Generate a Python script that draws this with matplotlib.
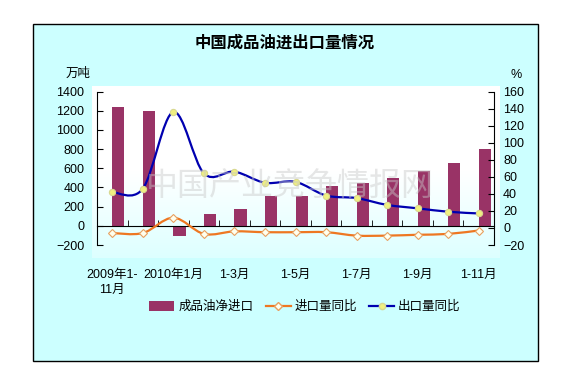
import numpy as np
import matplotlib
matplotlib.use("Agg")
import matplotlib.pyplot as plt
from matplotlib.path import Path
from matplotlib.patches import PathPatch, Rectangle
from matplotlib.lines import Line2D
from matplotlib.patches import Patch
from matplotlib.colors import LinearSegmentedColormap

plt.rcParams['font.family'] = ['Liberation Sans', 'Noto Sans CJK SC', 'DejaVu Sans']

categories = ['2009年1-\n11月', '2009年12月', '2010年1月', '1-2月', '1-3月', '1-4月', '1-5月',
              '1-6月', '1-7月', '1-8月', '1-9月', '1-10月', '1-11月']
net_import = [1240, 1200, -110, 120, 180, 310, 310, 420, 450, 500, 570, 650, 800]
import_yoy = [-6, -6, 12, -7, -4, -5, -5, -5, -9, -9, -8, -7, -3]
export_yoy = [42, 46, 136, 64, 66, 53, 54, 38, 35, 27, 23, 19, 17]
left_ticks = list(range(-200, 1401, 200))
right_ticks = list(range(-20, 161, 20))

W, H = 573, 380
fig = plt.figure(figsize=(W / 100, H / 100), dpi=100)

def fx(px):
    return px / W

def fy(py):
    return 1 - py / H

# outer frame
fig.patches.append(Rectangle((fx(33), fy(361)), fx(538) - fx(33), fy(24) - fy(361),
                             transform=fig.transFigure, facecolor='#CCFFFF',
                             edgecolor='black', lw=1.0, zorder=0))

# gradient background for plot area
bg = fig.add_axes([fx(92), fy(258), fx(500) - fx(92), fy(86) - fy(258)], zorder=0.5)
grad = np.linspace(0, 1, 256).reshape(-1, 1)
cm = LinearSegmentedColormap.from_list('g', ['#FFFFFF', '#FFFFFF', '#DDFFFF'])
bg.imshow(grad, aspect='auto', cmap=cm, extent=[0, 1, 0, 1])
bg.axis('off')

ax = fig.add_axes([fx(97), fy(245), fx(494) - fx(97), fy(91.5) - fy(245)], zorder=1)
ax.patch.set_visible(False)
x = np.arange(len(categories))
ax.bar(x, net_import, width=0.4, align='edge', color='#993366', zorder=2)
ax.set_xlim(-0.5, len(categories) - 0.5)
ax.set_ylim(-200, 1400)
ax.set_yticks(left_ticks)
ax.tick_params(axis='y', direction='in', length=4, pad=9, labelsize=9)
ax.spines['top'].set_visible(False)
ax.spines['right'].set_visible(False)
ax.spines['bottom'].set_position(('data', 0))
shown = [c if i % 2 == 0 else '' for i, c in enumerate(categories)]
ax.set_xticks(x)
ax.set_xticklabels(shown, fontsize=9, linespacing=1.3)
ax.tick_params(axis='x', which='major', length=0, pad=31)
ax.set_xticks(np.arange(0.5, len(categories) - 0.5, 1), minor=True)
ax.tick_params(axis='x', which='minor', direction='in', length=4)
for lbl in ax.get_xticklabels():
    lbl.set_verticalalignment('top')

ax2 = ax.twinx()
ax2.set_ylim(-20, 160)
ax2.set_yticks(right_ticks)
ax2.tick_params(axis='y', direction='in', length=4, pad=6.5, labelsize=9)
ax2.spines['top'].set_visible(False)
ax2.spines['left'].set_visible(False)
ax2.spines['bottom'].set_visible(False)
ax2.patch.set_visible(False)


def smooth_path(xs, ys):
    pts = np.column_stack([xs, ys]).astype(float)
    n = len(pts)
    verts = [pts[0]]
    codes = [Path.MOVETO]
    for i in range(n - 1):
        p0 = pts[max(i - 1, 0)]
        p1 = pts[i]
        p2 = pts[i + 1]
        p3 = pts[min(i + 2, n - 1)]
        c1 = p1 + (p2 - p0) / 6.0
        c2 = p2 - (p3 - p1) / 6.0
        verts += [c1, c2, p2]
        codes += [Path.CURVE4] * 3
    return Path(verts, codes)

orange = '#EE7722'
blue = '#0000B0'
ax2.add_patch(PathPatch(smooth_path(x, import_yoy), fill=False, edgecolor=orange, lw=1.6, zorder=3))
ax2.plot(x, import_yoy, ls='none', marker='D', ms=4.2, mfc='#FFFFEE', mec='#E8A060', mew=0.8, zorder=4)
ax2.add_patch(PathPatch(smooth_path(x, export_yoy), fill=False, edgecolor=blue, lw=1.6, zorder=3))
ax2.plot(x, export_yoy, ls='none', marker='o', ms=4.5, mfc='#F0F080', mec='#D8D890', mew=0.8, zorder=4)

# watermark
fig.text(fx(290), fy(187), '中国产业竞争情报网', fontsize=23, color='#C8C8C8', alpha=0.45,
         ha='center', va='center', zorder=5, family=['Noto Sans CJK SC'])

fig.text(fx(285), fy(43), '中国成品油进出口量情况', fontsize=11.8, fontweight='bold',
         ha='center', va='center', family=['Noto Sans CJK SC'])
fig.text(fx(78), fy(74), '万吨', fontsize=9, ha='center', va='center')
fig.text(fx(516), fy(75), '%', fontsize=9, ha='center', va='center')

handles = [Patch(facecolor='#993366'),
           Line2D([], [], color=orange, lw=1.6, marker='D', ms=4.2, mfc='#FFFFEE', mec='#E8A060'),
           Line2D([], [], color=blue, lw=1.6, marker='o', ms=4.5, mfc='#F0F080', mec='#D8D890')]
fig.legend(handles, ['成品油净进口', '进口量同比', '出口量同比'], loc='center',
           bbox_to_anchor=(fx(305), fy(307)), ncol=3, frameon=False, fontsize=9,
           handlelength=2.0, handleheight=0.8, columnspacing=1.0, handletextpad=0.3)

fig.savefig('out.png', dpi=100)
